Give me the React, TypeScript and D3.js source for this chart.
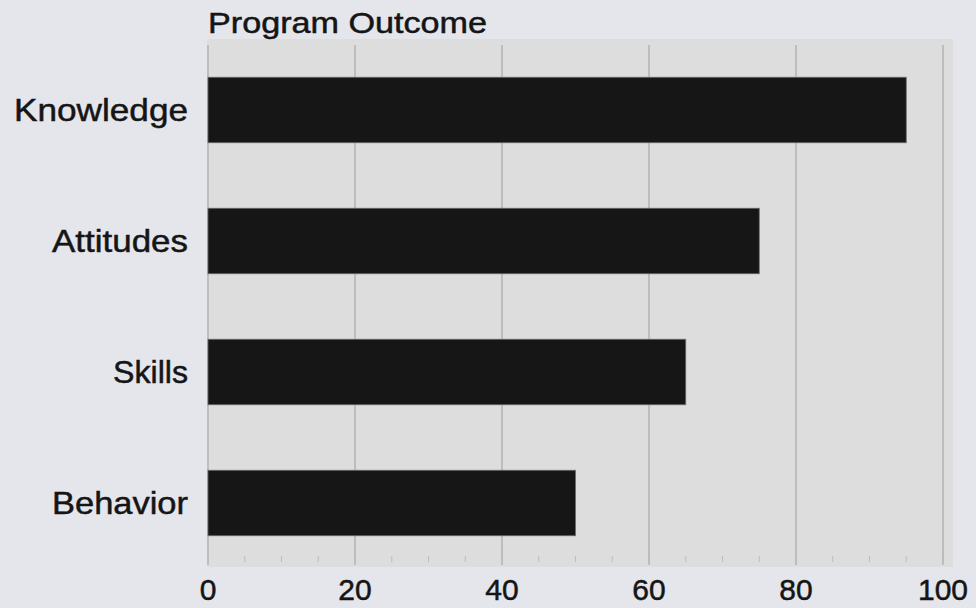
import React from "react";
import * as d3 from "d3";

const categories = ["Knowledge", "Attitudes", "Skills", "Behavior"];
const values = [95, 75, 65, 50];
const tickValues = [0, 20, 40, 60, 80, 100];
const minorTickValues = d3.range(0, 101, 5);
const labelWidths = [174, 136, 75, 136];
const title = "Program Outcome";

const W = 976;
const H = 608;

export default function App() {
  const x = d3.scaleLinear().domain([0, 100]).range([208, 943]);
  const y = d3
    .scaleBand<string>()
    .domain(categories)
    .range([44.5, 568.5])
    .paddingInner(0.5)
    .paddingOuter(0.25);

  const plotLeft = 207;
  const plotRight = 953;
  const plotTop = 39;
  const plotBottom = 567;
  const gridTop = 45;
  const gridBottom = 565;

  const textInk = { fill: "#151515", stroke: "#151515", strokeWidth: 0.5 };

  return (
    <svg
      width={W}
      height={H}
      style={{ position: "absolute", left: 0, top: 0 }}
      fontFamily="'Liberation Sans', Arial, sans-serif"
    >
      <rect x={0} y={0} width={W} height={H} fill="#e5e6eb" />
      <rect
        x={plotLeft}
        y={plotTop}
        width={plotRight - plotLeft}
        height={plotBottom - plotTop}
        fill="#dddddd"
      />
      {/* vertical gridlines */}
      {tickValues.map((t) => (
        <line
          key={"g" + t}
          x1={x(t)}
          x2={x(t)}
          y1={gridTop}
          y2={gridBottom}
          stroke="#a8a8a8"
          strokeWidth={1.2}
        />
      ))}
      {/* minor ticks along the bottom */}
      {minorTickValues.map((t) => (
        <line
          key={"m" + t}
          x1={x(t)}
          x2={x(t)}
          y1={556}
          y2={562}
          stroke="#bcbcbc"
          strokeWidth={1}
        />
      ))}
      {/* bars */}
      {categories.map((c, i) => (
        <rect
          key={c}
          x={x(0)}
          y={y(c)}
          width={x(values[i]) - x(0)}
          height={y.bandwidth()}
          fill="#161616"
          stroke="#6a6a6a"
          strokeWidth={0.8}
        />
      ))}
      {/* category labels */}
      {categories.map((c, i) => (
        <text
          key={"l" + c}
          x={188}
          y={(y(c) as number) + y.bandwidth() / 2 + 11}
          textAnchor="end"
          fontSize={32}
          {...textInk}
          textLength={labelWidths[i]}
          lengthAdjust="spacingAndGlyphs"
        >
          {c}
        </text>
      ))}
      {/* x tick labels */}
      {tickValues.map((t) => (
        <text
          key={"t" + t}
          x={x(t)}
          y={600}
          textAnchor="middle"
          fontSize={30}
          {...textInk}
        >
          {t}
        </text>
      ))}
      <text
        x={208}
        y={33}
        fontSize={29}
        {...textInk}
        textLength={279}
        lengthAdjust="spacingAndGlyphs"
      >
        {title}
      </text>
    </svg>
  );
}
